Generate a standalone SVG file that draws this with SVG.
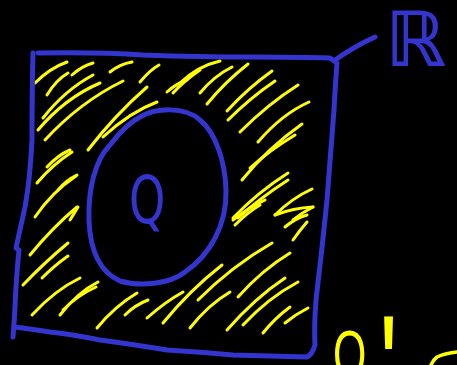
<svg xmlns="http://www.w3.org/2000/svg" width="457" height="365" viewBox="0 0 457 365">
<style>
.b{fill:none;stroke:#3434cf;stroke-width:5;stroke-linecap:round;stroke-linejoin:round}
.h{fill:none;stroke:#ffff00;stroke-width:3;stroke-linecap:round}
.y{fill:none;stroke:#ffff00;stroke-width:3.5;stroke-linecap:round;stroke-linejoin:round}
.tb{fill:#3434cf;font-family:"DejaVu Sans",sans-serif}
.ty{fill:#ffff00;font-family:"Liberation Sans",sans-serif}
</style>
<rect width="457" height="365" fill="#000"/>
<g id="hatching">
<path class="h" d="M35,83 Q50,68 67,62"/>
<path class="h" d="M47,95 Q56,80 68,73"/>
<path class="h" d="M72,75 Q82,66 93,63"/>
<path class="h" d="M43,118 Q65,90 93,75"/>
<path class="h" d="M38,130 Q65,98 100,83"/>
<path class="h" d="M45,140 Q80,102 123,81"/>
<path class="h" d="M110,72 Q120,64 132,62"/>
<path class="h" d="M140,82 Q150,70 159,65"/>
<path class="h" d="M167,92 Q177,83 187,80"/>
<path class="h" d="M173,93 Q185,80 200,70"/>
<path class="h" d="M88,150 Q115,115 147,87"/>
<path class="h" d="M103,137 Q130,112 157,102"/>
<path class="h" d="M47,167 Q58,155 70,150"/>
<path class="h" d="M37,183 Q52,165 72,152"/>
<path class="h" d="M35,217 Q52,192 76,176"/>
<path class="h" d="M58,190 Q66,180 77,175"/>
<path class="h" d="M180,83 Q198,66 220,61"/>
<path class="h" d="M200,93 Q214,76 232,67"/>
<path class="h" d="M207,104 Q225,82 248,64"/>
<path class="h" d="M227,111 Q248,88 272,71"/>
<path class="h" d="M228,120 Q250,98 275,81"/>
<path class="h" d="M240,132 Q268,104 298,85"/>
<path class="h" d="M258,142 Q282,114 309,102"/>
<path class="h" d="M242,180 Q268,148 302,124"/>
<path class="h" d="M250,168 Q270,150 295,135"/>
<path class="h" d="M233,218 Q258,192 288,173"/>
<path class="h" d="M238,218 Q260,198 288,180"/>
<path class="h" d="M275,215 Q292,198 312,189"/>
<path class="h" d="M293,220 Q303,212 313,207"/>
<path class="h" d="M30,255 Q52,228 77,207"/>
<path class="h" d="M70,220 Q75,212 78,207"/>
<path class="h" d="M23,285 Q45,262 68,243"/>
<path class="h" d="M42,278 Q55,265 68,256"/>
<path class="h" d="M32,315 Q55,290 80,278"/>
<path class="h" d="M60,315 Q78,292 98,282"/>
<path class="h" d="M63,310 Q78,295 96,287"/>
<path class="h" d="M97,328 Q115,306 137,293"/>
<path class="h" d="M125,315 Q135,305 148,300"/>
<path class="h" d="M147,318 Q165,302 183,292"/>
<path class="h" d="M163,323 Q190,290 222,265"/>
<path class="h" d="M198,300 Q232,266 272,243"/>
<path class="h" d="M190,328 Q208,305 230,292"/>
<path class="h" d="M227,330 Q255,298 285,278"/>
<path class="h" d="M238,297 Q262,270 290,253"/>
<path class="h" d="M243,325 Q268,298 298,282"/>
<path class="h" d="M263,333 Q275,318 290,307"/>
<path class="h" d="M285,323 Q296,314 308,308"/>
<path class="h" d="M233,220 Q248,208 265,200"/>
<path class="h" d="M235,225 Q248,212 260,205"/>
<path class="h" d="M275,215 Q293,208 313,207"/>
<path class="h" d="M285,227 Q296,218 307,215"/>
<path class="h" d="M293,240 Q300,230 307,222"/>
</g>
<g id="R">
<path class="b" d="M38,53 Q100,52 143,55 Q200,57 250,57 Q300,57 330,58 L337,63 Q335,90 334,110 Q330,160 327,200 Q322,250 316,300 Q314,325 315,345 Q312,355 307,357 Q270,356 233,355 Q200,352 167,350 Q130,344 100,340 Q70,334 50,332 Q30,329 15,327"/>
<path class="b" d="M33,53 Q32,90 32,140 Q30,180 25,207 Q20,230 16,248 L19,250 Q16,280 15,307 Q14,325 13,337"/>
<path class="b" d="M335,60 Q355,46 375,37"/>
<text class="tb" x="385" y="66" font-size="76" font-weight="bold">ℝ</text>
</g>
<g id="Q">
<path class="b" d="M140,117 C155,108 185,106 200,120 C215,132 225,160 226,190 C227,225 210,255 185,272 C170,284 140,287 120,281 C100,272 90,250 89,220 C88,190 95,160 110,145 C120,132 130,122 140,117 Z"/>
<text class="tb" font-size="66" transform="translate(129,223) scale(0.7,1)">Q</text>
</g>
<g id="Qprime">
<text class="ty" font-size="66" transform="translate(333,377) scale(0.65,1)">Q<tspan dx="20" dy="43" font-size="150">'</tspan></text>
</g>
<g id="partial">
<path class="y" d="M431,365 Q433,360 437,357 Q446,353 457,352"/>
</g>
</svg>
